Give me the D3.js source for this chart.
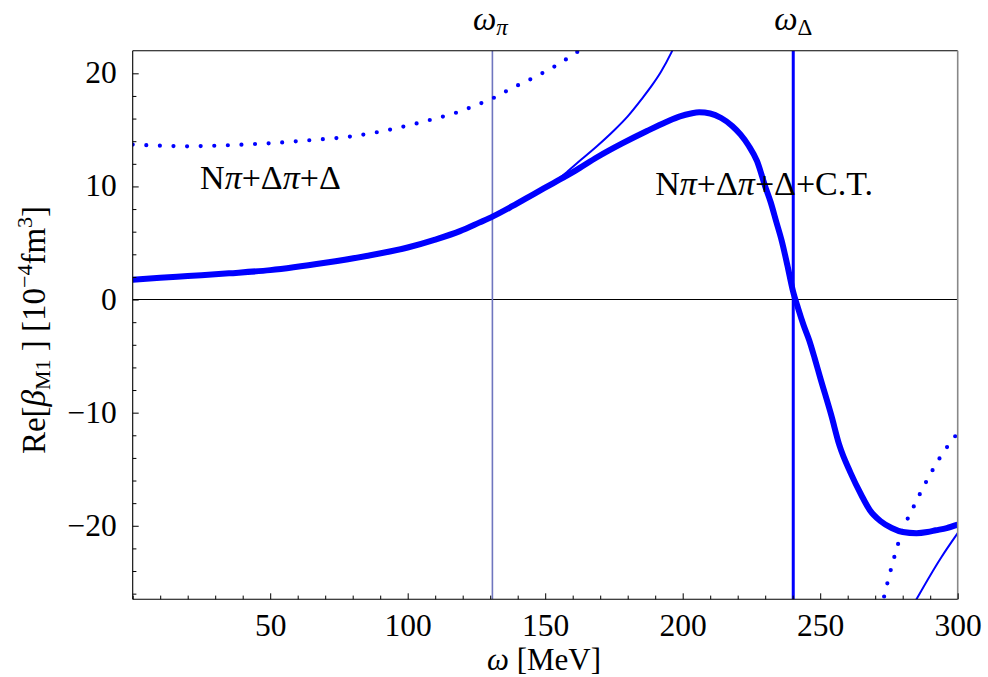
<!DOCTYPE html>
<html>
<head>
<meta charset="utf-8">
<script src="https://cdn.jsdelivr.net/npm/d3@7"></script>
<style>
  html, body { margin: 0; padding: 0; background: #fff; }
  svg { display: block; }
  text { font-family: "Liberation Serif", "Times New Roman", serif; fill: #000; }
</style>
</head>
<body>
<svg id="chart" width="988" height="677"></svg>
<script>
// Photon energy grid (MeV) and Re[beta_M1] (10^-4 fm^3)
const omegaFull = [0, 10, 20, 35, 50, 70, 85, 100, 110, 119, 126, 131, 138, 146, 153, 161, 169, 178, 187, 194, 199, 203, 206, 210, 214, 218, 221, 224, 227, 230, 232, 234, 236, 238, 240, 242, 244, 246, 248, 250, 254, 257, 261, 265, 268, 272, 276, 280, 285, 289, 292, 296, 300];
const betaFull  = [1.75, 1.92, 2.08, 2.32, 2.6, 3.25, 3.85, 4.6, 5.3, 6.05, 6.8, 7.35, 8.25, 9.35, 10.3, 11.4, 12.6, 13.8, 14.9, 15.7, 16.2, 16.45, 16.55, 16.45, 16.05, 15.35, 14.6, 13.6, 12.25, 10.0, 8.6, 6.9, 5.2, 3.1, 0.85, -0.8, -2.3, -3.6, -5.2, -6.9, -10.2, -12.9, -15.3, -17.3, -18.6, -19.6, -20.2, -20.55, -20.65, -20.55, -20.4, -20.2, -19.9];

// Without contact term: branch below the Delta pole and branch above it
const omegaNoCT1 = [0, 10, 20, 35, 50, 70, 85, 100, 110, 119, 126, 131, 138, 146, 153, 158, 163, 169, 175, 180, 185, 189, 192, 196, 199, 202];
const betaNoCT1  = [1.75, 1.92, 2.08, 2.32, 2.6, 3.25, 3.85, 4.6, 5.3, 6.05, 6.8, 7.35, 8.25, 9.38, 10.35, 11.3, 12.35, 13.6, 14.95, 16.2, 17.7, 19.0, 20.1, 21.9, 23.5, 25.5];
const omegaNoCT2 = [280, 285, 294, 300];
const betaNoCT2  = [-28.7, -26.5, -22.8, -20.65];

// Dotted curve, branch below and above the Delta pole
const omegaDot1 = [0, 10, 20, 30, 40, 50, 65, 77, 90, 102, 110, 118, 125, 131, 138, 144, 148, 153, 157, 162, 166];
const betaDot1  = [13.7, 13.6, 13.55, 13.6, 13.7, 13.82, 14.1, 14.35, 14.85, 15.5, 16.0, 16.55, 17.2, 17.8, 18.7, 19.4, 19.9, 20.55, 21.15, 21.95, 22.7];
const omegaDot2 = [271, 273, 276, 279.6, 284, 289, 294, 300];
const betaDot2  = [-28.6, -26.5, -23.6, -20.65, -18.3, -15.9, -13.8, -11.8];

// Thresholds (MeV)
const omegaPi = 130.8;
const omegaDelta = 240.2;

// Axis ticks
const xMajor = [50, 100, 150, 200, 250, 300];
const xMinor = [0, 10, 20, 30, 40, 60, 70, 80, 90, 110, 120, 130, 140, 160, 170, 180, 190, 210, 220, 230, 240, 260, 270, 280, 290];
const yMajor = [-20, -10, 0, 10, 20];
const yMinor = [-26, -24, -22, -18, -16, -14, -12, -8, -6, -4, -2, 2, 4, 6, 8, 12, 14, 16, 18];

// Annotations
const labelNoCT = { x: 24.5, y: 9.75 };
const labelCT = { x: 190, y: 9.25 };

const svg = d3.select("#chart");
const plotLeft = 132.7, plotRight = 957.7, plotTop = 50.7, plotBottom = 599.3;

const x = d3.scaleLinear().domain([0, 300]).range([plotLeft, plotRight]);
const y = d3.scaleLinear().domain([-26.5, 22]).range([plotBottom, plotTop]);

svg.append("defs").append("clipPath").attr("id", "plotClip")
  .append("rect").attr("x", plotLeft).attr("y", plotTop)
  .attr("width", plotRight - plotLeft).attr("height", plotBottom - plotTop);

const zip = (xs, ys) => xs.map((v, i) => [v, ys[i]]);
const line = d3.line().x(d => x(d[0])).y(d => y(d[1])).curve(d3.curveMonotoneX);

const plot = svg.append("g").attr("clip-path", "url(#plotClip)");

// zero line
plot.append("line")
  .attr("x1", plotLeft).attr("x2", plotRight)
  .attr("y1", y(0)).attr("y2", y(0))
  .attr("stroke", "#000").attr("stroke-width", 1.1);

// pion threshold
plot.append("line")
  .attr("x1", x(omegaPi)).attr("x2", x(omegaPi))
  .attr("y1", plotTop).attr("y2", plotBottom)
  .attr("stroke", "#6f76bf").attr("stroke-width", 1.6);

// dotted curves
[zip(omegaDot1, betaDot1), zip(omegaDot2, betaDot2)].forEach(pts => {
  plot.append("path").datum(pts).attr("d", line)
    .attr("fill", "none").attr("stroke", "#0000ff")
    .attr("stroke-width", 4.2).attr("stroke-linecap", "round")
    .attr("stroke-dasharray", "0,13.6");
});

// thin curves
[zip(omegaNoCT1, betaNoCT1), zip(omegaNoCT2, betaNoCT2)].forEach(pts => {
  plot.append("path").datum(pts).attr("d", line)
    .attr("fill", "none").attr("stroke", "#0000ff").attr("stroke-width", 2);
});

// thick curve
plot.append("path").datum(zip(omegaFull, betaFull)).attr("d", line)
  .attr("fill", "none").attr("stroke", "#0000ff")
  .attr("stroke-width", 6).attr("stroke-linejoin", "round");

// Delta position
plot.append("line")
  .attr("x1", x(omegaDelta)).attr("x2", x(omegaDelta))
  .attr("y1", plotTop).attr("y2", plotBottom)
  .attr("stroke", "#0000ff").attr("stroke-width", 3);

// frame
svg.append("line").attr("x1", plotLeft).attr("x2", plotRight).attr("y1", plotTop).attr("y2", plotTop)
  .attr("stroke", "#000").attr("stroke-width", 1.1);
svg.append("line").attr("x1", plotRight).attr("x2", plotRight).attr("y1", plotTop).attr("y2", plotBottom)
  .attr("stroke", "#888").attr("stroke-width", 1.6);

// axes
const fs = 31.5;
const xAxis = svg.append("g").attr("transform", `translate(0,${plotBottom})`)
  .call(d3.axisBottom(x).tickValues(xMajor).tickSize(-6).tickPadding(0).tickFormat(d3.format("d")));
xAxis.selectAll("text").attr("y", 37).attr("dy", 0).attr("font-size", fs);
svg.append("g").attr("transform", `translate(0,${plotBottom})`)
  .call(d3.axisBottom(x).tickValues(xMinor).tickSize(-3.7).tickFormat(""))
  .select(".domain").remove();

const yAxis = svg.append("g").attr("transform", `translate(${plotLeft},0)`)
  .call(d3.axisLeft(y).tickValues(yMajor).tickSize(-6).tickPadding(16).tickFormat(d3.format("d")));
yAxis.selectAll("text").attr("font-size", fs).attr("dy", "0.3em");
svg.append("g").attr("transform", `translate(${plotLeft},0)`)
  .call(d3.axisLeft(y).tickValues(yMinor).tickSize(-3.7).tickFormat(""))
  .select(".domain").remove();

svg.selectAll(".domain").attr("stroke", "#000").attr("stroke-width", 1.1);
svg.selectAll(".tick line").attr("stroke", "#000").attr("stroke-width", 1);
svg.selectAll(".tick text").attr("font-family", "Liberation Serif, Times New Roman, serif").attr("fill", "#000");
xAxis.select(".domain").attr("d", `M${plotLeft},0H${plotRight}`);
yAxis.select(".domain").attr("d", `M0,${plotBottom}V${plotTop}`);

// threshold labels
const thr = svg.append("g").attr("font-size", 33);
const tPi = thr.append("text").attr("x", x(omegaPi) - 2).attr("y", 30).attr("text-anchor", "middle");
tPi.append("tspan").attr("font-style", "italic").text("ω");
tPi.append("tspan").attr("font-style", "italic").attr("font-size", 23).attr("dy", 5).text("π");
const tD = thr.append("text").attr("x", x(omegaDelta)).attr("y", 30).attr("text-anchor", "middle");
tD.append("tspan").attr("font-style", "italic").text("ω");
tD.append("tspan").attr("font-size", 23).attr("dy", 5).text("Δ");

// curve labels
function curveLabel(pos, parts) {
  const t = svg.append("text").attr("x", x(pos.x)).attr("y", y(pos.y)).attr("font-size", 34);
  parts.forEach(p => t.append("tspan").attr("font-style", p[1] ? "italic" : "normal").text(p[0]));
}
curveLabel(labelNoCT, [["N"], ["π", 1], ["+Δ"], ["π", 1], ["+Δ"]]);
curveLabel(labelCT, [["N"], ["π", 1], ["+Δ"], ["π", 1], ["+Δ+C.T."]]);

// axis titles
const xt = svg.append("text").attr("x", 544).attr("y", 670).attr("text-anchor", "middle").attr("font-size", 31);
xt.append("tspan").attr("font-style", "italic").text("ω");
xt.append("tspan").text(" [MeV]");

const yt = svg.append("text").attr("transform", "translate(45,330) rotate(-90)")
  .attr("text-anchor", "middle").attr("font-size", 33);
yt.append("tspan").text("Re[");
yt.append("tspan").attr("font-style", "italic").text("β");
yt.append("tspan").attr("font-size", 22).attr("dy", 5).text("M1");
yt.append("tspan").attr("dy", -5).text(" ] [10");
yt.append("tspan").attr("font-size", 22).attr("dy", -13).text("−4");
yt.append("tspan").attr("dy", 13).text("fm");
yt.append("tspan").attr("font-size", 22).attr("dy", -13).text("3");
yt.append("tspan").attr("dy", 13).text("]");
</script>
</body>
</html>
